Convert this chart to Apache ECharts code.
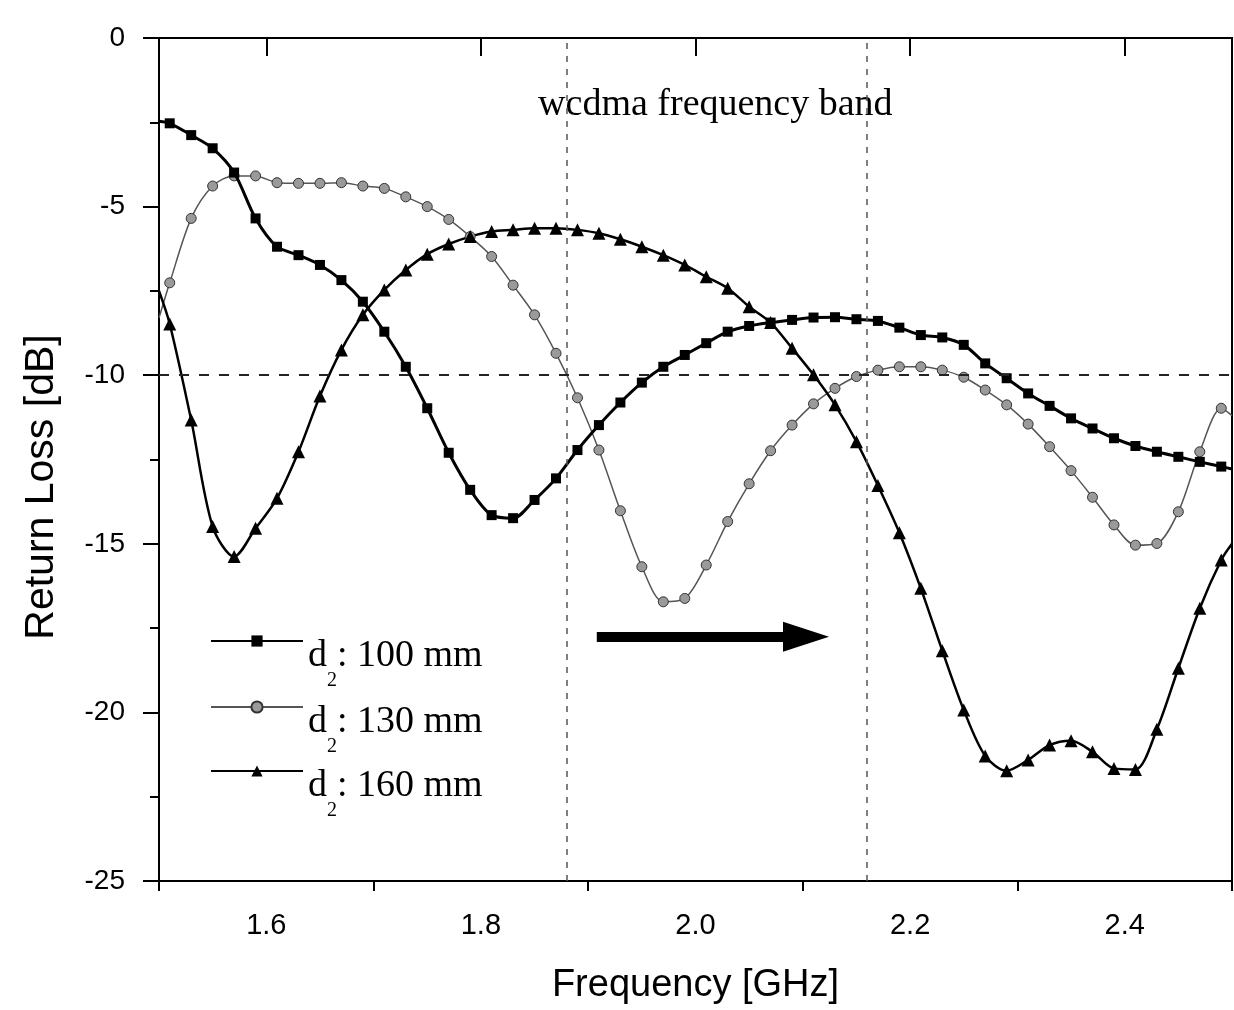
<!DOCTYPE html>
<html>
<head>
<meta charset="utf-8">
<script src="https://cdn.jsdelivr.net/npm/echarts@6/dist/echarts.min.js"></script>
<style>
html,body{margin:0;padding:0;background:#fff;}
#chart{width:1234px;height:1010px;}
</style>
</head>
<body>
<div id="chart"></div>
<script>
// ---- data ----
const freqGHz = [1.50,
  1.51,1.53,1.55,1.57,1.59,1.61,1.63,1.65,1.67,1.69,
  1.71,1.73,1.75,1.77,1.79,1.81,1.83,1.85,1.87,1.89,
  1.91,1.93,1.95,1.97,1.99,2.01,2.03,2.05,2.07,2.09,
  2.11,2.13,2.15,2.17,2.19,2.21,2.23,2.25,2.27,2.29,
  2.31,2.33,2.35,2.37,2.39,2.41,2.43,2.45,2.47,2.49,
  2.50];
const rl100 = [-2.47,
  -2.53,-2.88,-3.27,-3.99,-5.35,-6.19,-6.44,-6.73,-7.18,-7.82,
  -8.71,-9.75,-10.98,-12.30,-13.40,-14.15,-14.24,-13.70,-13.06,-12.22,
  -11.48,-10.81,-10.22,-9.75,-9.40,-9.05,-8.71,-8.54,-8.44,-8.36,
  -8.29,-8.28,-8.34,-8.39,-8.59,-8.81,-8.88,-9.10,-9.65,-10.09,
  -10.54,-10.91,-11.28,-11.58,-11.87,-12.10,-12.27,-12.42,-12.57,-12.71,
  -12.78];
const rl130 = [-8.3,
  -7.26,-5.35,-4.39,-4.09,-4.09,-4.29,-4.31,-4.31,-4.29,-4.39,
  -4.46,-4.71,-5.00,-5.38,-5.89,-6.48,-7.33,-8.21,-9.35,-10.67,
  -12.22,-14.02,-15.68,-16.72,-16.62,-15.63,-14.34,-13.22,-12.24,-11.48,
  -10.85,-10.39,-10.04,-9.85,-9.75,-9.75,-9.85,-10.06,-10.44,-10.88,
  -11.45,-12.12,-12.83,-13.62,-14.44,-15.04,-14.99,-14.05,-12.27,-10.98,
  -11.2];
const rl160 = [-7.5,
  -8.48,-11.33,-14.49,-15.38,-14.54,-13.65,-12.27,-10.62,-9.25,-8.21,
  -7.47,-6.88,-6.41,-6.11,-5.89,-5.74,-5.69,-5.64,-5.64,-5.69,
  -5.79,-5.97,-6.19,-6.44,-6.73,-7.08,-7.42,-7.97,-8.44,-9.20,
  -9.99,-10.88,-11.97,-13.27,-14.67,-16.32,-18.17,-19.93,-21.29,-21.73,
  -21.41,-20.97,-20.84,-21.17,-21.66,-21.69,-20.50,-18.69,-16.91,-15.48,
  -15.0];
const seriesNames = ['d2: 100 mm', 'd2: 130 mm', 'd2: 160 mm'];
const xMajorTicks = [1.6, 1.8, 2.0, 2.2, 2.4];
const xMinorTicks = [1.5, 1.7, 1.9, 2.1, 2.3, 2.5];
const bandEdges = [1.88, 2.157];
const bandLabel = 'wcdma frequency band';
const refLevel = -10;
const arrowFrom = [1.908, -17.76];
const arrowTo = [2.103, -17.76];

// ---- build ----
function toPoints(vals) {
  const last = freqGHz.length - 1;
  return freqGHz.map(function (f, i) {
    const item = { value: [f, vals[i]] };
    if (i === 0 || i === last) item.symbol = 'none';
    return item;
  });
}

const SANS = 'Liberation Sans, Arial, sans-serif';
const SERIF = 'Liberation Serif, Times New Roman, serif';

const legendRich = {
  a: { fontSize: 38, fontFamily: SERIF, color: '#000', lineHeight: 38, verticalAlign: 'top', padding: [15, 0, 0, 0] },
  b: { fontSize: 20, fontFamily: SERIF, color: '#000', lineHeight: 20, verticalAlign: 'top', padding: [49, 0, 0, 0] }
};

const legendRowIcon = [657, 723, 787];

const chart = echarts.init(document.getElementById('chart'), null, { renderer: 'canvas' });
chart.setOption({
  animation: false,
  backgroundColor: '#fff',
  grid: {
    left: 159, right: 2, top: 38, bottom: 129,
    show: true, borderColor: '#000', borderWidth: 2,
    containLabel: false, outerBoundsMode: 'none'
  },
  legend: seriesNames.map(function (n, i) {
    return {
      data: [n],
      orient: 'vertical',
      left: 210,
      top: legendRowIcon[i] - 35,
      padding: 0,
      itemWidth: 92,
      itemHeight: 14,
      selectedMode: false,
      formatter: function (name) {
        return '{a|' + name.charAt(0) + '}{b|' + name.charAt(1) + '}{a|' + name.slice(2) + '}';
      },
      textStyle: { color: '#000', fontFamily: SERIF, fontSize: 38, rich: legendRich }
    };
  }),
  xAxis: [
    {
      type: 'value', min: 1.5, max: 2.5, interval: 0.1, position: 'bottom',
      axisLine: { show: true, lineStyle: { color: '#000', width: 2 } },
      axisTick: { show: true, customValues: xMajorTicks, length: 18, lineStyle: { color: '#000', width: 2 } },
      axisLabel: {
        customValues: xMajorTicks, margin: 30, fontSize: 29, color: '#000', fontFamily: SANS,
        formatter: function (v) { return v.toFixed(1); }
      },
      splitLine: { show: false },
      name: 'Frequency [GHz]', nameLocation: 'middle', nameGap: 86,
      nameTextStyle: { fontSize: 38, color: '#000', fontFamily: SANS }
    },
    {
      type: 'value', min: 1.5, max: 2.5, interval: 0.1, position: 'bottom',
      axisLine: { show: false },
      axisTick: { show: true, customValues: xMinorTicks, length: 10, lineStyle: { color: '#000', width: 2 } },
      axisLabel: { show: false },
      splitLine: { show: false }
    }
  ],
  yAxis: {
    type: 'value', min: -25, max: 0, interval: 5,
    axisLine: { show: true, lineStyle: { color: '#000', width: 2 } },
    axisTick: { show: true, length: 16, lineStyle: { color: '#000', width: 2 } },
    minorTick: { show: true, splitNumber: 2, length: 9, lineStyle: { color: '#000', width: 2 } },
    axisLabel: { margin: 34, fontSize: 28, color: '#000', fontFamily: SANS },
    splitLine: { show: false },
    name: 'Return Loss [dB]', nameLocation: 'middle', nameRotate: 90, nameGap: 97,
    nameTextStyle: { fontSize: 41, color: '#000', fontFamily: SANS, padding: [0, 55, 0, 0] }
  },
  series: [
    {
      name: seriesNames[0], type: 'line', data: toPoints(rl100),
      symbol: 'rect', symbolSize: 10, smooth: 0.3, z: 4,
      lineStyle: { color: '#000', width: 3 },
      itemStyle: { color: '#000' },
      markLine: {
        silent: true, symbol: 'none', animation: false,
        label: { show: false },
        data: [
          { xAxis: bandEdges[0], lineStyle: { color: '#555', width: 1.5, type: [6, 7] } },
          { xAxis: bandEdges[1], lineStyle: { color: '#555', width: 1.5, type: [6, 7] } },
          { yAxis: refLevel, lineStyle: { color: '#222', width: 2, type: [10, 10] } }
        ]
      },
      markArea: {
        silent: true,
        itemStyle: { color: 'rgba(0,0,0,0)' },
        label: { show: true, position: 'insideTop', distance: 48, color: '#000', fontSize: 38, fontFamily: SERIF },
        data: [[{ name: bandLabel, xAxis: bandEdges[0], yAxis: 0 }, { xAxis: bandEdges[1], yAxis: -25 }]]
      }
    },
    {
      name: seriesNames[1], type: 'line', data: toPoints(rl130),
      symbol: 'circle', symbolSize: 10, smooth: 0.3, z: 3,
      lineStyle: { color: '#555', width: 1.5 },
      itemStyle: { color: '#9a9a9a', borderColor: '#333', borderWidth: 1 }
    },
    {
      name: seriesNames[2], type: 'line', data: toPoints(rl160),
      symbol: 'triangle', symbolSize: 13, smooth: 0.3, z: 3,
      lineStyle: { color: '#000', width: 2.5 },
      itemStyle: { color: '#000' },
      markLine: {
        silent: true, animation: false,
        symbol: ['none', 'triangle'],
        label: { show: false },
        lineStyle: { color: '#000', width: 10, type: 'solid' },
        data: [[
          { coord: arrowFrom, symbol: 'none' },
          { coord: arrowTo, symbol: 'triangle', symbolSize: [30, 46] }
        ]]
      }
    }
  ]
});
</script>
</body>
</html>
